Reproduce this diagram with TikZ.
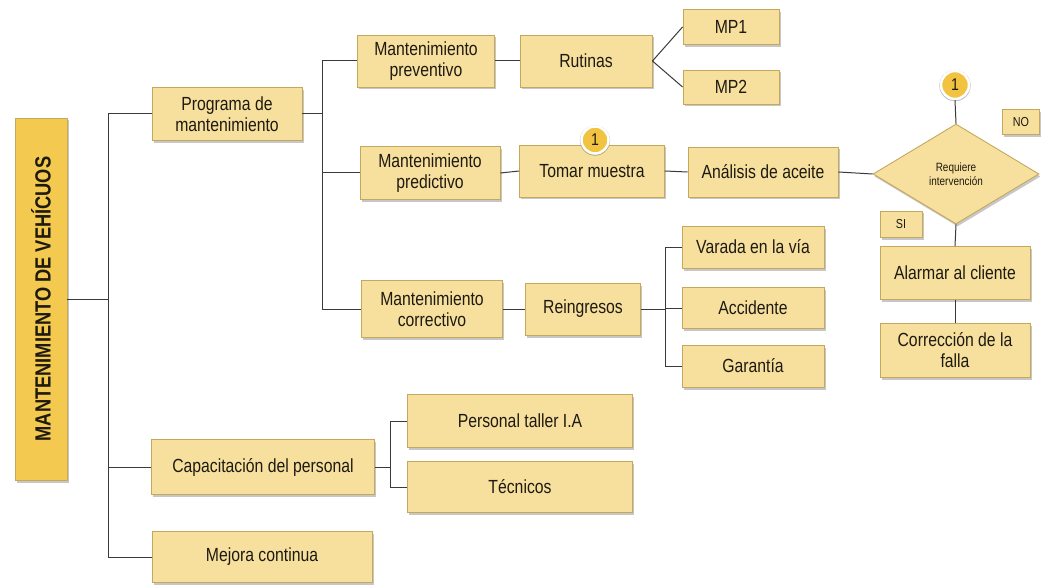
\documentclass[tikz,border=0pt]{standalone}
\usepackage{fontspec}
\setmainfont{Liberation Sans}[FakeStretch=0.83]
\usetikzlibrary{shapes.geometric,shadows}

\definecolor{boxfill}{HTML}{F7E09E}
\definecolor{boxline}{HTML}{C4A85C}
\definecolor{mainfill}{HTML}{F3C94F}
\definecolor{circfill}{HTML}{F2C340}
\definecolor{wire}{HTML}{3A3A3A}
\definecolor{txt}{HTML}{1E1A10}

\tikzset{
  softshadow/.style={drop shadow={shadow xshift=1.5pt, shadow yshift=-2.5pt, fill=black, opacity=0.22}},
  box/.style={draw=boxline, line width=0.9pt, fill=boxfill, softshadow,
    align=center, inner sep=2pt, text=txt,
    font=\fontsize{19}{21}\selectfont},
  smallbox/.style={box, font=\fontsize{13}{15}\selectfont},
  decision/.style={diamond, draw=boxline, line width=0.9pt, fill=boxfill, softshadow,
    align=center, inner sep=0pt, text=txt, font=\fontsize{12}{14}\selectfont},
  marker/.style={circle, fill=circfill, draw=white, line width=2.5pt, inner sep=0pt,
    minimum size=28pt, text=txt, font=\fontsize{17}{17}\selectfont,
    drop shadow={shadow xshift=0pt, shadow yshift=-0.5pt, shadow scale=1.12, fill=black, opacity=0.25}},
  wire/.style={draw=wire, line width=1pt}
}

\begin{document}
\begin{tikzpicture}[x=1pt, y=-1pt]
\useasboundingbox (0,0) rectangle (1041,588);

% root
\node[box, fill=mainfill, minimum width=52pt, minimum height=362pt] (main) at (41,299)
  {\rotatebox{90}{\fontsize{22}{22}\selectfont\bfseries MANTENIMIENTO DE VEHÍCUOS}};

% first level
\node[box, minimum width=150pt, minimum height=53pt] (prog) at (227,114) {Programa de\\mantenimiento};
\node[box, minimum width=223pt, minimum height=55pt] (cap) at (263,467) {Capacitación del personal};
\node[box, minimum width=220pt, minimum height=51pt] (mej) at (262,557) {Mejora continua};

% maintenance types
\node[box, minimum width=137pt, minimum height=52pt] (prev) at (426,61) {Mantenimiento\\preventivo};
\node[box, minimum width=140pt, minimum height=53pt] (pred) at (430,173) {Mantenimiento\\predictivo};
\node[box, minimum width=141pt, minimum height=57pt] (corr) at (432,309) {Mantenimiento\\correctivo};

% preventive branch
\node[box, minimum width=132pt, minimum height=52pt] (rut) at (586,61) {Rutinas};
\node[box, minimum width=96pt, minimum height=35pt] (mp1) at (731,27) {MP1};
\node[box, minimum width=96pt, minimum height=34pt] (mp2) at (731,87) {MP2};

% predictive branch
\node[box, minimum width=145pt, minimum height=52pt] (toma) at (592,171) {Tomar muestra};
\node[box, minimum width=150pt, minimum height=50pt] (anal) at (763,172) {Análisis de aceite};
\node[decision, minimum width=166pt, minimum height=100pt] (dec) at (956,174) {Requiere\\intervención};
\node[smallbox, minimum width=37pt, minimum height=25pt] (no) at (1021,122) {NO};
\node[smallbox, minimum width=42pt, minimum height=26pt] (si) at (901,224) {SI};
\node[box, minimum width=150pt, minimum height=53pt] (alar) at (955,273) {Alarmar al cliente};
\node[box, minimum width=150pt, minimum height=54pt] (corf) at (955,350) {Corrección de la\\falla};

% corrective branch
\node[box, minimum width=115pt, minimum height=52pt] (rein) at (583,309) {Reingresos};
\node[box, minimum width=142pt, minimum height=42pt] (var) at (753,247) {Varada en la vía};
\node[box, minimum width=142pt, minimum height=41pt] (acc) at (753,308) {Accidente};
\node[box, minimum width=142pt, minimum height=42pt] (gar) at (753,366) {Garantía};

% training branch
\node[box, minimum width=225pt, minimum height=53pt] (pers) at (520,421) {Personal taller I.A};
\node[box, minimum width=225pt, minimum height=51pt] (tec) at (520,487) {Técnicos};

% trunk positions
\coordinate (j1) at (108,0);
\coordinate (j2) at (322,0);
\coordinate (j3) at (665,0);
\coordinate (j4) at (390,0);

% root connectors
\draw[wire] (main.east) -- (main.east -| j1);
\draw[wire] (prog.west) -- (prog.west -| j1) -- (mej.west -| j1) -- (mej.west);
\draw[wire] (cap.west) -- (cap.west -| j1);

% program connectors
\draw[wire] (prog.east) -- (prog.east -| j2);
\draw[wire] (prev.west) -- (prev.west -| j2) -- (corr.west -| j2) -- (corr.west);
\draw[wire] (pred.west) -- (pred.west -| j2);

% preventive
\draw[wire] (prev.east) -- (rut.west);
\draw[wire] (rut.east) -- (mp1.west);
\draw[wire] (rut.east) -- (mp2.west);

% predictive
\draw[wire] (pred.east) -- (toma.west);
\draw[wire] (toma.east) -- (anal.west);
\draw[wire] (anal.east) -- (dec.west);

% corrective
\draw[wire] (corr.east) -- (rein.west);
\draw[wire] (rein.east) -- (rein.east -| j3);
\draw[wire] (var.west) -- (var.west -| j3) -- (gar.west -| j3) -- (gar.west);
\draw[wire] (acc.west) -- (acc.west -| j3);

% training
\draw[wire] (cap.east) -- (cap.east -| j4);
\draw[wire] (pers.west) -- (pers.west -| j4) -- (tec.west -| j4) -- (tec.west);

% decision flow
\node[marker] (m2) at (955,85) {1};
\draw[wire] (m2.south) -- (dec.north);
\draw[wire] (dec.south) -- (alar.north);
\draw[wire] (alar.south) -- (corf.north);

% link marker on sampling step
\node[marker, minimum size=27pt] (m1) at (595,140) {1};

\end{tikzpicture}
\end{document}
